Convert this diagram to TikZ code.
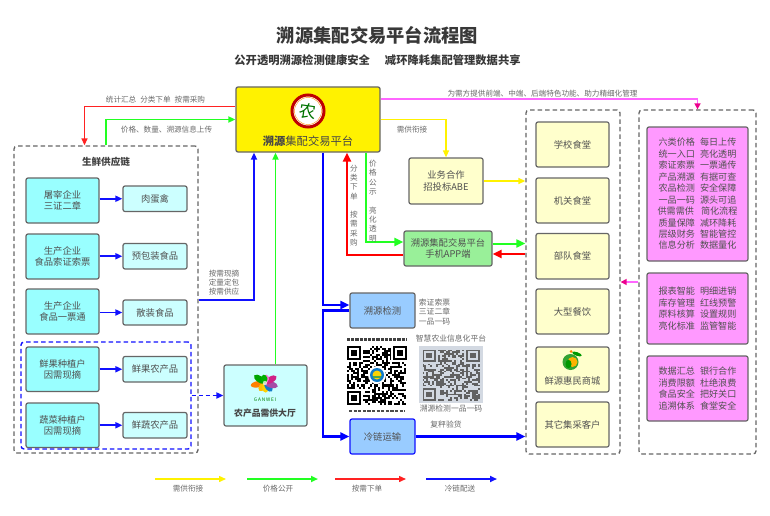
\documentclass[tikz,border=0pt]{standalone}
\usepackage{fontspec}
\setmainfont{Noto Sans CJK SC}
\usetikzlibrary{arrows.meta,calc}
\definecolor{bordergray}{HTML}{666666}
\definecolor{txt}{HTML}{505050}
\definecolor{lab}{HTML}{6A6A6A}
\definecolor{cy}{HTML}{99FFFF}
\definecolor{lcy}{HTML}{CCFFFF}
\definecolor{ly}{HTML}{FFFFCC}
\definecolor{appg}{HTML}{99F099}
\definecolor{pk}{HTML}{FF99FF}
\definecolor{bl}{HTML}{99CCFF}
\definecolor{magl}{HTML}{FF66FF}
\definecolor{gr}{HTML}{22FF22}
\definecolor{rd}{HTML}{FF2222}
\definecolor{be}{HTML}{1111FF}
\definecolor{qrbg}{HTML}{D3D9E2}
\newcommand{\fs}[2]{\fontsize{#1}{#2}\selectfont}
\newcommand{\bx}[7][]{%
  \pgfmathsetmacro\cxx{(#3+#5)/2}\pgfmathsetmacro\cyy{(#4+#6)/2}%
  \pgfmathsetmacro\www{#5-#3}\pgfmathsetmacro\hhh{#6-#4}%
  \node[boxbase,minimum width=\www pt,minimum height=\hhh pt,#1] (#2) at (\cxx,\cyy) {#7};}
\newcommand{\qrcode}[5]{% x y cell seed colour
  \pgfmathsetseed{#4}%
  \foreach \i in {0,...,28}{\foreach \j in {0,...,28}{%
    \pgfmathtruncatemacro\on{rnd<0.5?1:0}%
    \ifnum\on=1 \fill[#5] ({#1+\i*#3},{#2+\j*#3}) rectangle ++(#3,#3);\fi}}%
}
\newcommand{\finder}[5]{% x y cell colour bg
  \fill[#5] ({#1-#3},{#2-#3}) rectangle ++({9*#3},{9*#3});
  \fill[#4] (#1,#2) rectangle ++({7*#3},{7*#3});
  \fill[#5] ({#1+#3},{#2+#3}) rectangle ++({5*#3},{5*#3});
  \fill[#4] ({#1+2*#3},{#2+2*#3}) rectangle ++({3*#3},{3*#3});}
\tikzset{
  boxbase/.style={draw=bordergray,line width=1.2pt,rounded corners=2pt,inner sep=0pt,align=center,text=txt,font=\fs{9.3}{11.5}},
  cyanbox/.style={fill=cy},
  lcyanbox/.style={fill=lcy},
  ybox/.style={fill=ly},
  pinkbox/.style={fill=pk,font=\fs{9.1}{11.45}},
  bluebox/.style={fill=bl},
  groupbox/.style={draw=bordergray,line width=1.3pt,dash pattern=on 4.5pt off 3pt,rounded corners=3pt,inner sep=0pt},
  lbl/.style={text=lab,font=\fs{7.6}{9.3},inner sep=0pt,align=left},
  tipb/.style={-{Triangle[length=7pt,width=6pt]}},
  tipt/.style={-{Triangle[length=9pt,width=8pt]}},
  thinblue/.style={draw=be,line width=1.7pt,tipb},
  thickblue/.style={draw=blue,line width=2.4pt,tipt},
  linegreen/.style={draw=gr,line width=1.8pt,tipb},
  lineyellow/.style={draw=yellow,line width=1.4pt,tipb},
  linered/.style={draw=rd,line width=1.4pt,tipb},
  thickgreen/.style={draw=gr,line width=2pt,tipt},
  thickred/.style={draw=red,line width=2.2pt,tipt},
  linemag/.style={draw=magl,line width=1.6pt,-{Triangle[length=6pt,width=6pt,color=magenta]}},
}
\begin{document}
\begin{tikzpicture}[x=1pt,y=-1pt]
\useasboundingbox (0,0) rectangle (770,516);
\fill[white] (0,0) rectangle (770,516);
% titles
\node[font=\fs{18.3}{20}\bfseries,text=black!78,inner sep=0pt] (title) at (377.5,35) {溯源集配交易平台流程图};
\node[font=\fs{11.3}{13}\bfseries,text=black!78,inner sep=0pt] (subtitle) at (377.5,60) {公开透明溯源检测健康安全\hspace{15pt}减环降耗集配管理数据共享};
% groups
\bx[groupbox]{sup}{14}{146}{198}{453}{}
\bx[groupbox,draw=be,line width=1.4pt]{bd}{21}{342}{191}{449}{}
\bx[groupbox]{col}{526}{110}{620}{454}{}
\bx[groupbox]{far}{639}{110}{756}{454}{}
\node[font=\fs{9.6}{11}\bfseries,text=black!75,inner sep=0pt] (suptitle) at (106,162) {生鲜供应链};
% platform
\bx[fill=yellow,rounded corners=2pt,line width=1.3pt]{plat}{236}{87}{380}{152}{}
\node[inner sep=0pt,font=\fs{11.3}{13},text=black!72] (plattext) at (308,141) {\textbf{溯源}集配交易平台};
\fill[white,draw=red!75!black,line width=3pt] (308,111) circle (16);
\draw[red!45!yellow,line width=.4pt] (308,111) circle (13.5);
\node[inner sep=0pt,font=\fs{17}{17},text=green!45!black,rotate=-8] (platlogo) at (308,111) {农};
% supply boxes
\bx[cyanbox]{c1}{26}{178}{99}{223}{屠宰企业\\三证二章}
\bx[cyanbox]{c2}{26}{234}{99}{279}{生产企业\\食品索证索票}
\bx[cyanbox]{c3}{26}{289}{99}{334}{生产企业\\食品一票通}
\bx[cyanbox]{c4}{26}{347}{99}{391.5}{鲜果种植户\\因需现摘}
\bx[cyanbox]{c5}{26}{403}{99}{447.5}{蔬菜种植户\\因需现摘}
\bx[lcyanbox]{p1}{123}{186}{187}{211.5}{肉蛋禽}
\bx[lcyanbox]{p2}{123}{243.5}{187}{269}{预包装食品}
\bx[lcyanbox]{p3}{123}{300}{187}{325}{散装食品}
\bx[lcyanbox]{p4}{123}{356.5}{187}{382}{鲜果农产品}
\bx[lcyanbox]{p5}{123}{412.5}{187}{438}{鲜蔬农产品}
\foreach \k in {1,...,5}{\draw[thinblue] (c\k.east |- p\k.west) -- (p\k.west);}
% hall
\bx[lcyanbox]{hall}{224}{365}{307}{426}{}
\node[inner sep=0pt,font=\fs{8.8}{10}\bfseries,text=black!72] (halltext) at (265,413) {农产品需供大厅};
\node[inner sep=0pt,font=\fs{4.8}{6},text=green!50!black] (ganwei) at (265,400) {G\,A\,N\,W\,E\,I};
\foreach \a/\c/\l in {170/orange/12,125/orange!50!yellow/8,85/yellow!70!orange/8,50/cyan!60!blue/9,15/violet!70/11,-30/magenta!70!violet/11,-80/pink!60!magenta/7,215/green!65!black/11,260/green!70!black/7}{
  \fill[\c,rotate around={-\a:(265,383)}] ({265+\l*.6},383) ellipse ({\l*.6} and 3.2);
}
\fill[white,opacity=.7] (265,383) circle (2.2);
% right column
\bx[ybox]{r1}{536}{122}{609}{167}{学校食堂}
\bx[ybox]{r2}{536}{178}{609}{223}{机关食堂}
\bx[ybox]{r3}{536}{233.5}{609}{279}{部队食堂}
\bx[ybox]{r4}{536}{289}{609}{334}{大型餐饮}
\bx[ybox]{r5}{536}{347}{609}{392}{}
\bx[ybox]{r6}{536}{402}{609}{447}{其它集采客户}
\node[inner sep=0pt,font=\fs{9.3}{11},text=txt] (r5text) at (572.5,381) {鲜源惠民商城};
\fill[green!55!black!80] (570.5,362) circle (8);
\fill[orange!60!yellow] (572.5,362) circle (5);
\fill[green!60!black] (568.5,364) ellipse (3 and 4.2);
\fill[green!60!black,rotate around={-20:(577,354)}] (577,354) ellipse (5 and 1.8);
\fill[orange] (571,351.5) circle (1.5);
% pink boxes
\bx[pinkbox]{m1}{647}{127}{748}{261}{六类价格\hspace{5pt}每日上传\\统一入口\hspace{5pt}亮化透明\\索证索票\hspace{5pt}一票通传\\产品溯源\hspace{5pt}有据可查\\农品检测\hspace{5pt}安全保障\\一品一码\hspace{5pt}源头可追\\供需需供\hspace{7pt}简化流程\\质量保障\hspace{5pt}减环降耗\\层级财务\hspace{5pt}智能管控\\信息分析\hspace{5pt}数据量化}
\bx[pinkbox]{m2}{647}{273}{748}{344}{报表智能\hspace{5pt}明细进销\\库存管理\hspace{5pt}红线预警\\原料核算\hspace{5pt}设置规则\\亮化标准\hspace{5pt}监管智能}
\bx[pinkbox]{m3}{647}{356}{748}{421}{数据汇总\hspace{5pt}银行合作\\消费限额\hspace{5pt}杜绝浪费\\食品安全\hspace{5pt}把好关口\\追溯体系\hspace{5pt}食堂安全}
% middle boxes
\bx[ybox]{abe}{409}{158}{483}{204}{业务合作\\招投标ABE}
\bx[fill=appg,font=\fs{9.3}{11.2}]{app}{404}{231}{492}{266}{溯源集配交易平台\\手机APP端}
\bx[bluebox]{trace}{350}{293}{415}{328}{溯源检测}
\bx[bluebox,draw=be]{cold}{350}{419}{415}{454}{冷链运输}
% QR codes
\qrcode{347}{345.5}{2.05}{7}{black}
\finder{347}{345.5}{2.05}{black}{white}
\finder{392.6}{345.5}{2.05}{black}{white}
\finder{347}{391}{2.05}{black}{white}
\fill[white] (377,375) circle (9);
\fill[cyan!60!blue] (377,375) circle (7);
\fill[yellow!70!orange] (377,375) circle (4.5);
\fill[green!50!black!70] (373,376) rectangle (381,378);
\fill[qrbg] (419,346) rectangle (483,403);
\begin{scope}[shift={(422.5,349.5)},x=1.97pt,y=-1.76pt]
\qrcode{0}{0}{1}{19}{black!62}
\finder{0}{0}{1}{black!62}{qrbg}
\finder{22}{0}{1}{black!62}{qrbg}
\finder{0}{22}{1}{black!62}{qrbg}
\end{scope}
\draw[black!75,line width=2.2pt,dash pattern=on 3.2pt off 1pt] (347,339.5) -- (407,339.5);
\draw[black!70,line width=2pt,dash pattern=on 3.2pt off 1.4pt] (349,410.5) -- (405,410.5);
\node[lbl,font=\fs{7.8}{9}] (q2top) at (451,339) {智慧农业信息化平台};
\node[lbl,font=\fs{7.8}{9}] (q2bot) at (451,408.5) {溯源检测一品一码};
% connectors top left
\draw[linered] ([yshift=13pt]plat.west) -| ([xshift=-21.5pt]sup.north);
\draw[linegreen] (sup.north) |- (plat.west);
\node[lbl] (l1) at (155.5,100) {统计汇总\hspace{4pt}分类下单\hspace{4pt}按需采购};
\node[lbl] (l2) at (166.5,130) {价格、数量、溯源信息上传};
% supply to platform
\draw[thinblue] ([yshift=-.5pt]sup.east) -| ([xshift=-54pt]plat.south);
\draw[linegreen] ([xshift=10pt]hall.north) -- ([xshift=-32.5pt]plat.south);
\draw[thinblue,dash pattern=on 4pt off 3pt] (bd.east) -- (hall.west);
\node[lbl] (l3) at (224,282.5) {按需现摘\\定量定包\\按需供应};
% platform to trace and cold
\draw[thickblue] ([xshift=15pt]plat.south) |- ([yshift=5.5pt]trace.west);
\draw[thickblue] (trace.west) -- ++(-26.5,0) |- (cold.west);
\draw[thickblue] (cold.east) -- (cold.east -| col.west);
\node[lbl,font=\fs{7.8}{9.4}] (l4) at (434.5,312) {索证索票\\三证二章\\一品一码};
\node[lbl,font=\fs{7.8}{9}] (l5) at (446,425) {复秤验货};
% app connectors
\draw[thickred] ([yshift=-6.5pt]app.west) -| ([xshift=39pt]plat.south);
\draw[thickgreen] ([xshift=58pt]plat.south) |- ([yshift=6.5pt]app.west);
\coordinate (ag) at ([yshift=5pt]app.east);
\coordinate (ar) at ([yshift=-5.5pt]app.east);
\draw[thickgreen] (ag) -- (ag -| col.west);
\draw[thickred] (ar -| col.west) -- (ar);
\node[lbl,align=center] (v1) at (354,205.5) {分\\类\\下\\单\\~\\按\\需\\采\\购};
\node[lbl,align=center] (v2) at (373,201) {价\\格\\公\\示\\~\\亮\\化\\透\\明};
% yellow
\draw[lineyellow] (plat.east) -| (abe.north);
\draw[lineyellow] (abe.east) -- (abe.east -| col.west);
\node[lbl] (l6) at (412,130) {需供衔接};
% magenta
\draw[linemag] ([yshift=20.5pt]plat.east) -| (far.north);
\draw[linemag] (far.west) -- (col.east);
\node[lbl] (l7) at (542.5,94) {为需方提供前端、中端、后端特色功能、助力精细化管理};
% legend
\coordinate (la) at (155,479); \coordinate (lb) at (226,479);
\coordinate (lc) at (247,479); \coordinate (ld) at (318,479);
\coordinate (le) at (335,479); \coordinate (lf) at (406,479);
\coordinate (lg) at (426,479); \coordinate (lh) at (497,479);
\draw[lineyellow] (la) -- (lb);
\draw[linegreen] (lc) -- (ld);
\draw[linered] (le) -- (lf);
\draw[thinblue] (lg) -- (lh);
\node[lbl] (k1) at (188,489) {需供衔接};
\node[lbl] (k2) at (278,489) {价格公开};
\node[lbl] (k3) at (367,489) {按需下单};
\node[lbl] (k4) at (460,489) {冷链配送};
\end{tikzpicture}
\end{document}
